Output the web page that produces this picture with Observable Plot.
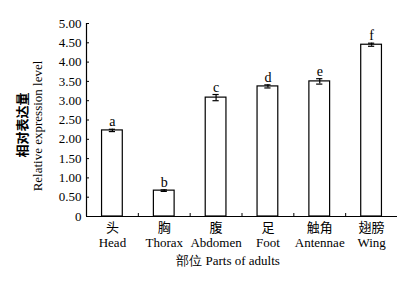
<!DOCTYPE html>
<html>
<head>
<meta charset="utf-8">
<script src="https://cdn.jsdelivr.net/npm/d3@7"></script>
<script src="https://cdn.jsdelivr.net/npm/@observablehq/plot@0.6"></script>
<style>
  html, body { margin: 0; padding: 0; background: #fff; }
  #chart svg { display: block; }
</style>
</head>
<body>
<div id="chart"></div>
<script>
const partsZh = ["头", "胸", "腹", "足", "触角", "翅膀"];
const partsEn = ["Head", "Thorax", "Abdomen", "Foot", "Antennae", "Wing"];
const values = [2.23, 0.67, 3.08, 3.37, 3.50, 4.45];
const errors = [0.03, 0.02, 0.08, 0.04, 0.07, 0.04];
const letters = ["a", "b", "c", "d", "e", "f"];
const yTicks = [0, 0.5, 1, 1.5, 2, 2.5, 3, 3.5, 4, 4.5, 5];
const yTitleZh = "相对表达量";
const yTitleEn = "Relative expression level";
const xTitle = "部位 Parts of adults";

const data = values.map((v, i) => ({
  i, zh: partsZh[i], en: partsEn[i], v, e: errors[i], letter: letters[i]
}));

const serif = "'Liberation Serif', 'Times New Roman', serif";
const cjk = "'Noto Sans CJK SC', sans-serif";

const chart = Plot.plot({
  width: 418,
  height: 282,
  marginLeft: 86,
  marginRight: 21,
  marginTop: 23,
  marginBottom: 66,
  style: { fontFamily: serif, fontSize: "13px", background: "#fff", color: "#000" },
  x: { type: "linear", domain: [0, 6] },
  y: { domain: [0, 5] },
  marks: [
    Plot.axisY({
      ticks: yTicks,
      tickSize: -3,
      tickPadding: 8,
      tickFormat: d => d === 0 ? "0" : d.toFixed(2),
      label: null,
      fontSize: 13
    }),
    Plot.axisX({
      ticks: [1, 2, 3, 4, 5],
      tickSize: -3,
      tickFormat: () => "",
      label: null
    }),
    Plot.rectY(data, {
      x1: d => d.i + 0.3, x2: d => d.i + 0.7, y1: 0, y2: "v",
      fill: "#fff", stroke: "#000", strokeWidth: 1.2
    }),
    Plot.ruleX(data, { x: d => d.i + 0.5, y1: d => d.v - d.e, y2: d => d.v + d.e, stroke: "#000", strokeWidth: 1.2 }),
    Plot.ruleY(data, { y: d => d.v + d.e, x1: d => d.i + 0.44, x2: d => d.i + 0.56, stroke: "#000", strokeWidth: 1.2 }),
    Plot.ruleY(data, { y: d => d.v - d.e, x1: d => d.i + 0.44, x2: d => d.i + 0.56, stroke: "#000", strokeWidth: 1.2 }),
    Plot.text(data, {
      x: d => d.i + 0.5, y: d => d.v + d.e, text: "letter",
      lineAnchor: "bottom", dy: -3, fontSize: 14, fontFamily: serif
    }),
    Plot.ruleY([0], { stroke: "#000", strokeWidth: 1.2 }),
    Plot.ruleX([0], { stroke: "#000", strokeWidth: 1.2 }),
    Plot.text(data, {
      x: d => d.i + 0.5, y: 0, text: "zh",
      dy: 11, lineAnchor: "middle", fontSize: 13, fontFamily: cjk
    }),
    Plot.text(data, {
      x: d => d.i + 0.5, y: 0, text: "en",
      dy: 26, lineAnchor: "middle", fontSize: 13, fontFamily: serif
    }),
    Plot.text([xTitle], {
      frameAnchor: "bottom", textAnchor: "middle", dy: 44, dx: -14, lineAnchor: "middle",
      fontSize: 13, fontFamily: serif
    }),
    Plot.text([yTitleZh], {
      frameAnchor: "left", textAnchor: "middle", dx: -64, dy: 5, rotate: -90, lineAnchor: "middle",
      fontSize: 13, fontWeight: "bold", fontFamily: cjk
    }),
    Plot.text([yTitleEn], {
      frameAnchor: "left", textAnchor: "middle", dx: -49, dy: 6, rotate: -90, lineAnchor: "middle",
      fontSize: 13, fontFamily: serif
    })
  ]
});
document.getElementById("chart").appendChild(chart);
</script>
</body>
</html>
